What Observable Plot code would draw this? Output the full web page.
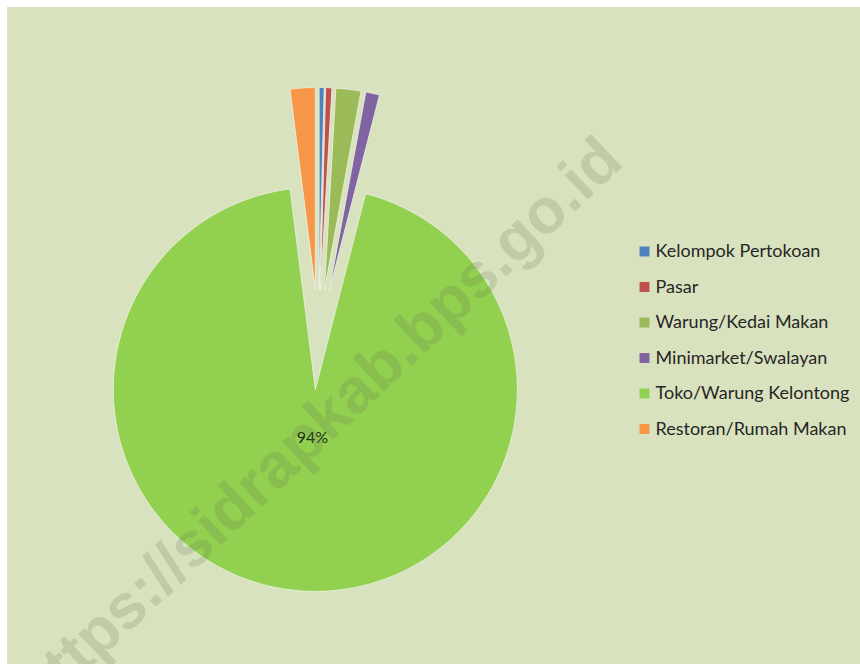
<!DOCTYPE html>
<html><head><meta charset="utf-8">
<script src="https://cdn.jsdelivr.net/npm/d3@7"></script>
<script src="https://cdn.jsdelivr.net/npm/@observablehq/plot@0.6"></script>
<style>
html,body{margin:0;padding:0;background:#fff;}
#chart{position:absolute;left:7px;top:7px;}
</style></head><body><div id="chart"></div>
<script>
const categories = ["Kelompok Pertokoan","Pasar","Warung/Kedai Makan","Minimarket/Swalayan","Toko/Warung Kelontong","Restoran/Rumah Makan"];
const shares = [0.4, 0.5, 2.0, 1.1, 94.0, 2.0];
const colors = ["#4f81bd","#c0504d","#9bbb59","#8064a2","#92d050","#f79646"];
const labelShown = [false, false, false, false, true, false];
const watermark = "https://sidrapkab.bps.go.id";

const W = 853, H = 657, R = 202, CX = 311, CY = 332, explode = 0.2475;

const arcs = d3.pie().sort(null).value(d => d)(shares);
const points = [];
const labels = [];
arcs.forEach((a, i) => {
  const mid = (a.startAngle + a.endAngle) / 2;
  const ox = explode * Math.sin(mid), oy = explode * Math.cos(mid);
  const name = categories[i];
  points.push({name, x: ox, y: oy});
  const n = Math.max(2, Math.ceil((a.endAngle - a.startAngle) / (Math.PI / 360)));
  for (let k = 0; k <= n; k++) {
    const t = a.startAngle + (a.endAngle - a.startAngle) * k / n;
    points.push({name, x: ox + Math.sin(t), y: oy + Math.cos(t)});
  }
  points.push({name, x: ox, y: oy});
  if (labelShown[i]) {
    labels.push({x: ox + 0.24 * Math.sin(mid), y: oy + 0.24 * Math.cos(mid), text: Math.round(shares[i]) + "%"});
  }
});

// legend layout (pixel positions converted to the unit space of the pie)
const toUx = px => (px - CX) / R, toUy = py => (CY - py) / R;
const legend = categories.map((name, i) => ({name, sx: toUx(637), tx: toUx(648), y: toUy(244 + 35.5 * i)}));

const chart = Plot.plot({
  width: W, height: H, margin: 0,
  style: {background: "#d9e2bf", overflow: "hidden"},
  x: {domain: [-CX / R, (W - CX) / R], axis: null},
  y: {domain: [-(H - CY) / R, CY / R], axis: null},
  color: {domain: categories, range: colors},
  marks: [
    Plot.line(points, {x: "x", y: "y", z: "name", fill: "name", stroke: "#eef3e2", strokeWidth: 0.8, curve: "linear"}),
    Plot.text(labels, {x: "x", y: "y", text: "text", fontSize: 16, fontFamily: "Lato, 'Noto Sans', sans-serif", fill: "#1e2a14"}),
    Plot.dot(legend, {x: "sx", y: "y", fill: "name", symbol: "square", r: 5.6}),
    Plot.text(legend, {x: "tx", y: "y", text: "name", textAnchor: "start", fontSize: 18, fontFamily: "Lato, 'Noto Sans', sans-serif", fill: "#262626"}),
    Plot.text([watermark], {x: () => 0.0, y: () => -0.426, text: d => d, rotate: -43.3, fontSize: 63, fontWeight: "bold", fontFamily: "'Liberation Sans', Arial, sans-serif", fill: "#6b7a50", fillOpacity: 0.22})
  ]
});
document.getElementById("chart").appendChild(chart);
</script>
</body></html>
